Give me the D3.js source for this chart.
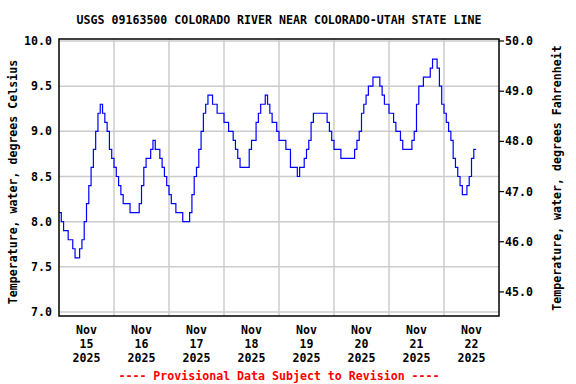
<!DOCTYPE html>
<html>
<head>
<meta charset="utf-8">
<script src="https://cdn.jsdelivr.net/npm/d3@7"></script>
<style>
  body { margin: 0; background: #fff; }
  text { font-family: "DejaVu Sans Mono", "Liberation Mono", monospace; font-weight: bold; }
</style>
</head>
<body>
<svg id="chart" width="576" height="384"></svg>
<script>
// chart text
const title = "USGS 09163500 COLORADO RIVER NEAR COLORADO-UTAH STATE LINE";
const leftLabel = "Temperature, water, degrees Celsius";
const rightLabel = "Temperature, water, degrees Fahrenheit";
const footer = "---- Provisional Data Subject to Revision ----";

// x axis: one label per day
const dayLabels = [
  ["Nov", "15", "2025"], ["Nov", "16", "2025"], ["Nov", "17", "2025"], ["Nov", "18", "2025"],
  ["Nov", "19", "2025"], ["Nov", "20", "2025"], ["Nov", "21", "2025"], ["Nov", "22", "2025"]
];
const startDay = Date.UTC(2025, 10, 15);
const endDay = Date.UTC(2025, 10, 23);

// y ticks
const celsiusTicks = [7.0, 7.5, 8.0, 8.5, 9.0, 9.5, 10.0];
const fahrenheitTicks = [45.0, 46.0, 47.0, 48.0, 49.0, 50.0];

// hourly water temperature (deg C), starting Nov 15 00:00
const tempC = [
  // Nov 15
  8.1, 8.0, 7.9, 7.9, 7.8, 7.8, 7.7, 7.6, 7.6, 7.7, 7.8, 8.0,
  8.2, 8.4, 8.6, 8.8, 9.0, 9.2, 9.3, 9.2, 9.1, 9.0, 8.8, 8.7,
  // Nov 16
  8.6, 8.5, 8.4, 8.3, 8.2, 8.2, 8.2, 8.1, 8.1, 8.1, 8.1, 8.2,
  8.4, 8.6, 8.7, 8.7, 8.8, 8.9, 8.8, 8.8, 8.7, 8.6, 8.5, 8.4,
  // Nov 17
  8.3, 8.2, 8.2, 8.1, 8.1, 8.1, 8.0, 8.0, 8.0, 8.1, 8.3, 8.5,
  8.6, 8.8, 9.0, 9.2, 9.3, 9.4, 9.4, 9.3, 9.3, 9.2, 9.2, 9.2,
  // Nov 18
  9.1, 9.1, 9.0, 9.0, 8.9, 8.8, 8.7, 8.6, 8.6, 8.6, 8.6, 8.8,
  8.9, 8.9, 9.1, 9.2, 9.3, 9.3, 9.4, 9.3, 9.2, 9.1, 9.1, 9.0,
  // Nov 19
  8.9, 8.9, 8.9, 8.8, 8.8, 8.6, 8.6, 8.6, 8.5, 8.6, 8.6, 8.7,
  8.8, 8.9, 9.1, 9.2, 9.2, 9.2, 9.2, 9.2, 9.2, 9.1, 9.0, 8.9,
  // Nov 20
  8.8, 8.8, 8.8, 8.7, 8.7, 8.7, 8.7, 8.7, 8.7, 8.8, 8.9, 9.0,
  9.2, 9.3, 9.4, 9.5, 9.5, 9.6, 9.6, 9.6, 9.5, 9.4, 9.3, 9.3,
  // Nov 21
  9.2, 9.2, 9.1, 9.0, 9.0, 8.9, 8.8, 8.8, 8.8, 8.8, 8.9, 9.0,
  9.3, 9.5, 9.5, 9.6, 9.6, 9.6, 9.7, 9.8, 9.8, 9.7, 9.5, 9.3,
  // Nov 22
  9.2, 9.1, 9.0, 8.9, 8.7, 8.6, 8.5, 8.4, 8.3, 8.3, 8.4, 8.5,
  8.7, 8.8, 8.8
];

const svg = d3.select("#chart");
const plot = { left: 59, right: 499, top: 39, bottom: 316 };

let x = d3.scaleUtc()
  .domain([startDay, endDay])
  .range([plot.left, plot.right]);

let y = d3.scaleLinear()
  .domain([7, 10])
  .range([312, 41]);

let yF = d3.scaleLinear()
  .domain([7 * 9 / 5 + 32, 50])
  .range([312, 41]);

const data = tempC.map((v, i) => ({ t: startDay + i * 3600 * 1000, v: v }));

// grid
svg.append("g")
  .selectAll("line")
  .data(celsiusTicks)
  .join("line")
  .attr("x1", plot.left).attr("x2", plot.right)
  .attr("y1", d => y(d)).attr("y2", d => y(d))
  .attr("stroke", "#cccccc").attr("stroke-width", 1.5);

const midnights = d3.utcDay.range(startDay + 1, endDay);
svg.append("g")
  .selectAll("line")
  .data(midnights)
  .join("line")
  .attr("x1", d => x(d)).attr("x2", d => x(d))
  .attr("y1", plot.top).attr("y2", plot.bottom)
  .attr("stroke", "#cccccc").attr("stroke-width", 1.5);

// data line
svg.append("path")
  .datum(data)
  .attr("fill", "none")
  .attr("stroke", "#0000ff")
  .attr("stroke-width", 1.2)
  .attr("d", d3.line()
    .curve(d3.curveStepAfter)
    .x(d => x(d.t))
    .y(d => y(d.v)));

// frame
svg.append("rect")
  .attr("x", plot.left).attr("y", plot.top)
  .attr("width", plot.right - plot.left)
  .attr("height", plot.bottom - plot.top)
  .attr("fill", "none")
  .attr("stroke", "#000").attr("stroke-width", 1.5);

// left tick labels
svg.append("g")
  .selectAll("text")
  .data(celsiusTicks)
  .join("text")
  .attr("x", 52)
  .attr("y", d => y(d) + 4)
  .attr("text-anchor", "end")
  .attr("font-size", 11.6)
  .text(d => d.toFixed(1));

// right axis ticks and labels
let rightG = svg.append("g");
rightG.selectAll("line")
  .data(fahrenheitTicks)
  .join("line")
  .attr("x1", plot.right).attr("x2", plot.right + 5)
  .attr("y1", d => yF(d)).attr("y2", d => yF(d))
  .attr("stroke", "#000").attr("stroke-width", 1.2);
rightG.selectAll("text")
  .data(fahrenheitTicks)
  .join("text")
  .attr("x", 505)
  .attr("y", d => yF(d) + 4)
  .attr("font-size", 11.6)
  .text(d => d.toFixed(1));

// x labels at noon of each day
let xl = svg.append("g")
  .selectAll("text")
  .data(dayLabels)
  .join("text")
  .attr("text-anchor", "middle")
  .attr("font-size", 11.6)
  .attr("transform", (d, i) => `translate(${x(startDay + (i + 0.5) * 86400000)},334)`);
xl.selectAll("tspan")
  .data(d => d)
  .join("tspan")
  .attr("x", 0)
  .attr("y", (d, i) => i * 13.8)
  .text(d => d);

// titles
svg.append("text")
  .attr("x", 279).attr("y", 24)
  .attr("text-anchor", "middle")
  .attr("font-size", 11.6)
  .text(title);

svg.append("text")
  .attr("transform", "translate(17,182) rotate(-90)")
  .attr("text-anchor", "middle")
  .attr("font-size", 11.6)
  .text(leftLabel);

svg.append("text")
  .attr("transform", "translate(561,178) rotate(-90)")
  .attr("text-anchor", "middle")
  .attr("font-size", 11.6)
  .text(rightLabel);

svg.append("text")
  .attr("x", 279).attr("y", 380)
  .attr("text-anchor", "middle")
  .attr("font-size", 11.6)
  .attr("fill", "#ff0000")
  .text(footer);
</script>
</body>
</html>
